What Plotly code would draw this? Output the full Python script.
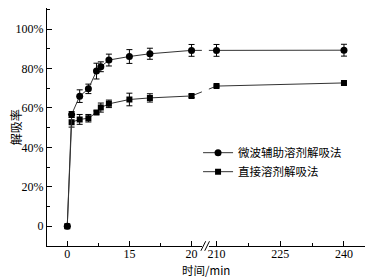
import plotly.graph_objects as go

# ---- data ----
x_early = [0, 0.7, 2.0, 3.4, 4.7, 5.4, 6.7, 10.0, 13.3, 20.0]   # axis units of the left panel
x_late = [210, 240]

mw_early = [0, 56.7, 66.0, 69.7, 78.7, 80.9, 84.3, 86.1, 87.5, 89.2]
mw_early_err = [0, 1.5, 3.2, 2.4, 4.0, 2.5, 3.0, 3.5, 2.8, 3.0]
mw_late = [89.2, 89.3]
mw_late_err = [3.0, 3.0]

dir_early = [0, 52.8, 54.2, 54.8, 57.7, 60.2, 62.1, 64.3, 65.1, 66.1]
dir_early_err = [0, 2.5, 2.5, 1.9, 0.8, 2.3, 1.9, 3.2, 2.1, 0.8]
dir_late = [71.1, 72.7]
dir_late_err = [0.5, 0.5]

name_mw = "微波辅助溶剂解吸法"
name_dir = "直接溶剂解吸法"

x1_tickvals = [0, 10, 20]
x1_ticktext = ["0", "15", "20"]
x2_tickvals = [210, 225, 240]
x2_ticktext = ["210", "225", "240"]
y_tickvals = [0, 20, 40, 60, 80, 100]
y_ticktext = ["0", "20%", "40%", "60%", "80%", "100%"]

# ---- geometry ----
r1 = [-3.26, 21.66]
r2 = [208.2, 244.95]
d1 = [0.0, 0.487]
d2 = [0.509, 1.0]
yr = [-10, 110.7]

def to_paper(r, d, x):
    return d[0] + (x - r[0]) / (r[1] - r[0]) * (d[1] - d[0])

def from_paper(r, d, p):
    return r[0] + (p - d[0]) / (d[1] - d[0]) * (r[1] - r[0])

serif = "Liberation Serif, Times New Roman, serif"
cjk = "Noto Sans CJK SC"
LINE = "#333333"

fig = go.Figure()

def add_series(name, symbol, size, ye, ye_err, yl, yl_err, rank):
    # bridging segments across the axis break
    p_last = to_paper(r1, d1, x_early[-1])
    p_first = to_paper(r2, d2, x_late[0])
    xv1 = from_paper(r1, d1, p_first)
    xv2 = from_paper(r2, d2, p_last)
    fig.add_trace(go.Scatter(x=[x_early[-1], xv1], y=[ye[-1], yl[0]], mode="lines",
                             line=dict(color=LINE, width=1), showlegend=False,
                             xaxis="x", yaxis="y", hoverinfo="skip"))
    fig.add_trace(go.Scatter(x=[xv2, x_late[0]], y=[ye[-1], yl[0]], mode="lines",
                             line=dict(color=LINE, width=1), showlegend=False,
                             xaxis="x2", yaxis="y", hoverinfo="skip"))
    fig.add_trace(go.Scatter(x=x_early, y=ye, mode="lines+markers", name=name,
                             legendrank=rank,
                             line=dict(color=LINE, width=1),
                             marker=dict(symbol=symbol, size=size, color="black"),
                             error_y=dict(type="data", array=ye_err, color="black",
                                          thickness=1, width=3),
                             xaxis="x", yaxis="y"))
    fig.add_trace(go.Scatter(x=x_late, y=yl, mode="lines+markers", name=name,
                             showlegend=False,
                             line=dict(color=LINE, width=1),
                             marker=dict(symbol=symbol, size=size, color="black"),
                             error_y=dict(type="data", array=yl_err, color="black",
                                          thickness=1, width=3),
                             xaxis="x2", yaxis="y"))

add_series(name_dir, "square", 6, dir_early, dir_early_err, dir_late, dir_late_err, 2)
add_series(name_mw, "circle", 7, mw_early, mw_early_err, mw_late, mw_late_err, 1)

axis_common = dict(showline=True, linecolor="black", linewidth=1, ticks="inside",
                   ticklen=5, tickcolor="black", showgrid=False, zeroline=False,
                   tickfont=dict(family=serif, size=12, color="black"), mirror=False)

fig.update_layout(
    width=377, height=280,
    margin=dict(l=47, r=12, t=8, b=34),
    paper_bgcolor="white", plot_bgcolor="white",
    xaxis=dict(domain=d1, range=r1, tickmode="array", tickvals=x1_tickvals,
               ticktext=x1_ticktext, ticklabelstandoff=-3,
               minor=dict(tickvals=[5, 15], ticks="inside", ticklen=3, tickcolor="black"),
               **axis_common),
    xaxis2=dict(domain=d2, range=r2, tickmode="array", tickvals=x2_tickvals,
                ticktext=x2_ticktext, anchor="y", ticklabelstandoff=-3,
                minor=dict(tickvals=[217.5, 232.5], ticks="inside", ticklen=3, tickcolor="black"),
                **axis_common),
    yaxis=dict(range=yr, tickmode="array", tickvals=y_tickvals, ticktext=y_ticktext,
               minor=dict(tickvals=[10, 30, 50, 70, 90, 110], ticks="inside", ticklen=3,
                          tickcolor="black"),
               **axis_common),
    legend=dict(x=0.475, y=0.453, xanchor="left", yanchor="top",
                font=dict(family=cjk, size=11.5, color="black"),
                bgcolor="rgba(0,0,0,0)", tracegroupgap=0, itemwidth=30),
    showlegend=True,
)

# axis break marks
for dx in (0.0, 0.012):
    fig.add_shape(type="line", xref="paper", yref="paper",
                  x0=0.484 + dx, x1=0.499 + dx, y0=-0.02, y1=0.02,
                  line=dict(color="black", width=1))

fig.add_annotation(text="时间/min", xref="paper", yref="paper", x=0.5, y=-0.1,
                   xanchor="center", yanchor="middle", showarrow=False,
                   font=dict(family=cjk, size=11.5, color="black"))
fig.add_annotation(text="解吸率", xref="paper", yref="paper", x=-0.1, y=0.5,
                   xanchor="center", yanchor="middle", showarrow=False, textangle=-90,
                   font=dict(family=cjk, size=12, color="black"))

fig.write_html("out.html", config={"displayModeBar": False},
               post_script="document.body.style.margin='0';document.body.style.overflow='hidden';")
